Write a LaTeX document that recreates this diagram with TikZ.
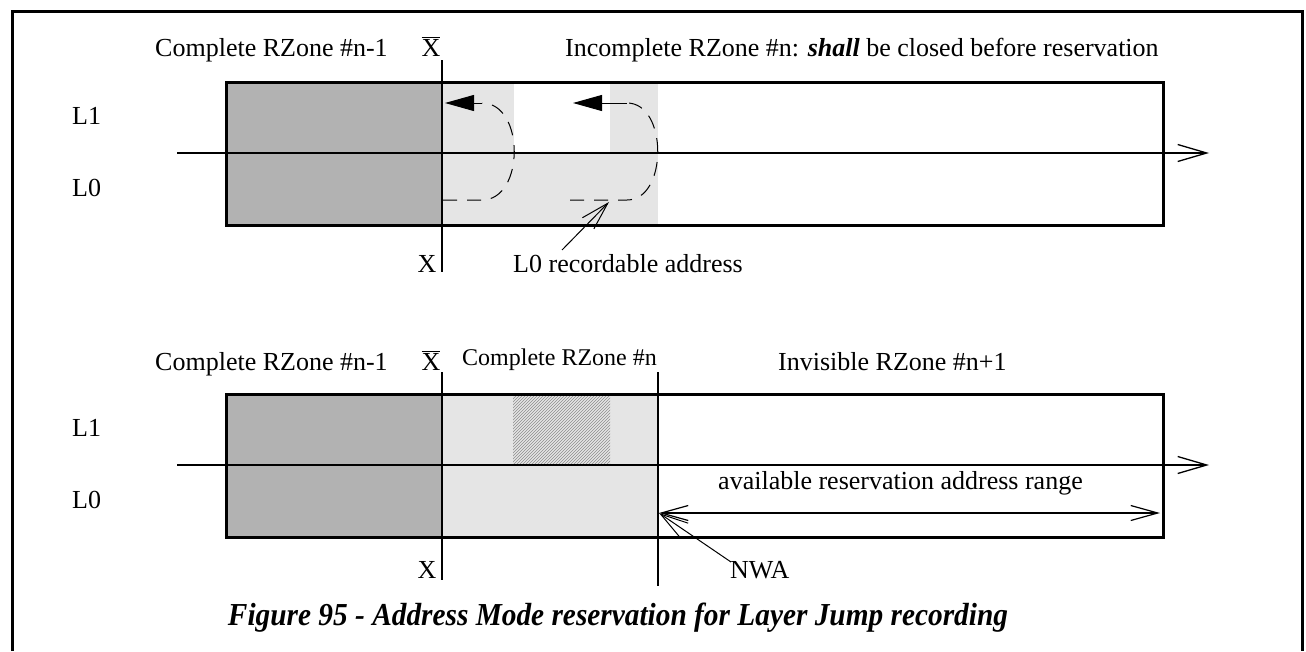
\documentclass[tikz,border=0pt]{standalone}
\usepackage{fontspec}
\setmainfont{Liberation Serif}
\usetikzlibrary{arrows.meta,patterns}
\begin{document}
\begin{tikzpicture}[x=1pt,y=-1pt,
  lbl/.style={font=\fontsize{26}{30}\selectfont, inner sep=0pt, anchor=base west},
  lblc/.style={font=\fontsize{26}{30}\selectfont, inner sep=0pt, anchor=base},
  darkfill/.style={fill=black!30, draw=none},
  lightfill/.style={fill=black!10, draw=none},
  border/.style={line width=3pt},
  axisline/.style={line width=2pt, -{Straight Barb[length=29pt,width=17pt,line width=1.3pt]}},
  markline/.style={line width=2pt},
  thinarrow/.style={line width=1pt, -{Straight Barb[length=28pt,width=16pt,line width=1pt]}},
  rangearrow/.style={line width=1.5pt, {Straight Barb[length=27pt,width=15pt,line width=1.2pt]}-{Straight Barb[length=27pt,width=15pt,line width=1.2pt]}},
  jumpcurve/.style={line width=1pt, dash pattern=on 14pt off 10pt},
  jumphead/.style={line width=1pt, -{Triangle[length=29pt,width=16pt]}}
]
\useasboundingbox (0,0) rectangle (1306,651);
% frame
\draw[line width=3pt] (12,651) -- (12,11) -- (1302,11) -- (1302,651);

% ---------------- top diagram ----------------
\fill[darkfill] (226,82) rectangle (442,225);
\fill[lightfill] (442,82) rectangle (514,153);
\fill[lightfill] (610,82) rectangle (658,153);
\fill[lightfill] (442,153) rectangle (658,225);
\draw[border] (226,82) rectangle (1163,225);
\coordinate (a1s) at (177,153);
\coordinate (a1e) at (1209,153);
\draw[axisline] (a1s) -- (a1e);
\coordinate (x1t) at (442,60);
\coordinate (x1b) at (442,272);
\draw[markline] (x1t) -- (x1b);

% jump curves
\coordinate (j1a) at (443,200);
\coordinate (j1b) at (482,200);
\coordinate (j1c) at (482,103);
\coordinate (j1d) at (445,103);
\draw[jumpcurve] (j1a) -- (j1b) .. controls (525,200) and (525,103) .. (j1c);
\draw[jumphead] (j1c) -- (j1d);
\coordinate (j2a) at (570,200);
\coordinate (j2b) at (627,200);
\coordinate (j2c) at (627,103);
\coordinate (j2d) at (573,103);
\draw[jumpcurve] (j2a) -- (j2b) .. controls (668,200) and (668,103) .. (j2c);
\draw[jumphead] (j2c) -- (j2d);

\node[lbl] (c1) at (155,56) {Complete RZone \#n-1};
\node[lblc] (xb1) at (431,56) {$\overline{\hbox{X}}$};
\node[lbl] (inc) at (565,56) {Incomplete RZone \#n: \textbf{\textit{shall}} be closed before reservation};
\node[lbl] (l1a) at (72,124) {L1};
\node[lbl] (l0a) at (72,196) {L0};
\node[lblc] (x1) at (427,272) {X};
\node[lbl] (rec) at (513,272) {L0 recordable address};
\coordinate (recs) at (562,250);
\coordinate (recp) at (609,202);
\draw[thinarrow] (recs) -- (recp);

% ---------------- bottom diagram ----------------
\fill[darkfill] (226,394) rectangle (442,537);
\fill[lightfill] (442,394) rectangle (658,537);
\fill[pattern=north east lines, pattern color=black!45] (513,396) rectangle (610,463);
\draw[border] (226,394) rectangle (1163,537);
\coordinate (a2s) at (177,465);
\coordinate (a2e) at (1209,465);
\draw[axisline] (a2s) -- (a2e);
\coordinate (x2t) at (442,372);
\coordinate (x2b) at (442,580);
\draw[markline] (x2t) -- (x2b);
\coordinate (nt) at (658,372);
\coordinate (nb) at (658,586);
\draw[markline] (nt) -- (nb);
\coordinate (rl) at (659,513);
\coordinate (rr) at (1160,513);
\draw[rangearrow] (rl) -- (rr);

\node[lbl] (c2) at (155,370) {Complete RZone \#n-1};
\node[lblc] (xb2) at (431,370) {$\overline{\hbox{X}}$};
\node[lbl, font=\fontsize{24}{28}\selectfont] (cn) at (462,365) {Complete RZone \#n};
\node[lbl] (inv) at (778,370) {Invisible RZone \#n+1};
\node[lbl] (l1b) at (72,436) {L1};
\node[lbl] (l0b) at (72,508) {L0};
\node[lblc] (x2) at (427,578) {X};
\node[lbl] (avail) at (718,489) {available reservation address range};
\node[lbl] (nwa) at (730,578) {NWA};
\coordinate (nwas) at (731,562);
\draw[thinarrow] (nwas) -- (rl);

% caption
\node[inner sep=0pt, anchor=base] (cap) at (618,625)
  {\resizebox{780pt}{\height}{\fontsize{32}{36}\selectfont\bfseries\itshape Figure 95 - Address Mode reservation for Layer Jump recording}};
\end{tikzpicture}
\end{document}
